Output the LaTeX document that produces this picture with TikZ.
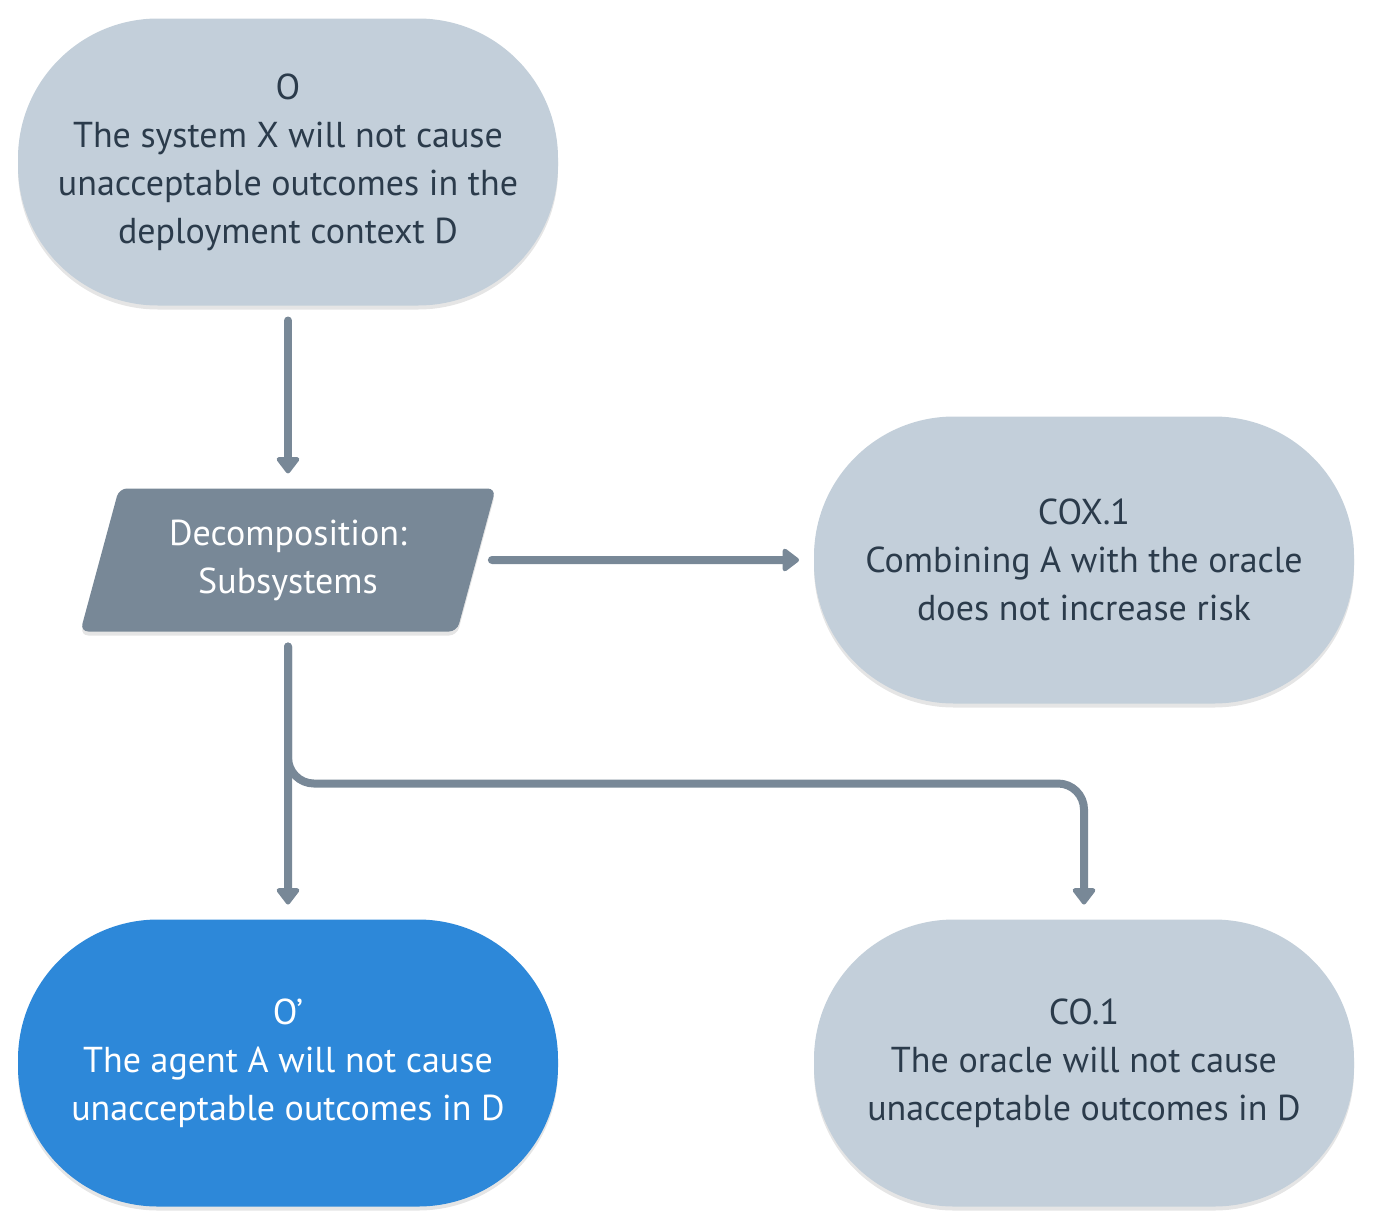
\documentclass[tikz,border=0pt]{standalone}
\usepackage{fontspec}
\setmainfont{PT Sans}
\usepackage{tikz}
\usetikzlibrary{arrows.meta,shapes.geometric,shadows}
\definecolor{claimgray}{HTML}{C3CFDA}
\definecolor{slate}{HTML}{788897}
\definecolor{ink}{HTML}{2B3B4B}
\definecolor{goalblue}{HTML}{2D88D9}
\tikzset{
x=0.5pt, y=-0.5pt, % one unit is one pixel of the layout
>={Triangle[width=13pt,length=9pt,round]}, % filled arrow heads
softshadow/.style={drop shadow={shadow xshift=0pt, shadow yshift=-2pt, opacity=0.10, fill=black}},
claim/.style={rectangle, rounded corners=70pt, fill=claimgray, text=ink, softshadow,
  minimum width=270pt, minimum height=143.5pt, inner sep=0pt, outer sep=7.5pt, align=center,
  font=\fontsize{18}{24}\selectfont}, % sets the look of every claim node
goal/.style={claim, fill=goalblue, text=white}, % the claim that is worked on
decomp/.style={trapezium, trapezium left angle=71.4, trapezium right angle=108.6,
  trapezium stretches=true, rounded corners=4pt, fill=slate, text=white, softshadow,
  minimum width=208pt, minimum height=71.5pt, inner sep=0pt, outer sep=7.5pt, align=center,
  font=\fontsize{18}{24}\selectfont},
conn/.style={->, draw=slate, line width=4pt, line cap=round},
}
\begin{document}
\begin{tikzpicture}
		\useasboundingbox (0,0) rectangle (1374,1226);
		\node[claim] (O) at (288,162) {O\\The system X will not cause\\unacceptable outcomes in the\\deployment context D};
		\node[decomp, below of=O, node distance=199pt] (dec) {Decomposition:\\Subsystems};
		\node[claim, right of=dec, node distance=398pt] (COX) {COX.1\\Combining A with the oracle\\does not increase risk};
		\node[goal, below of=dec, node distance=251.5pt] (Op) {O’\\The agent A will not cause\\unacceptable outcomes in D};
		\node[claim, right of=Op, node distance=398pt] (CO) {CO.1\\The oracle will not cause\\unacceptable outcomes in D};
		\draw[conn] (O) -- (dec);
		\draw[conn] (dec) -- (COX);
		\draw[conn] (dec) -- (Op);
		\draw[conn, rounded corners=13pt] (dec.south) -- ++(0,137) -| (CO.north);
	\end{tikzpicture}
\end{document}
